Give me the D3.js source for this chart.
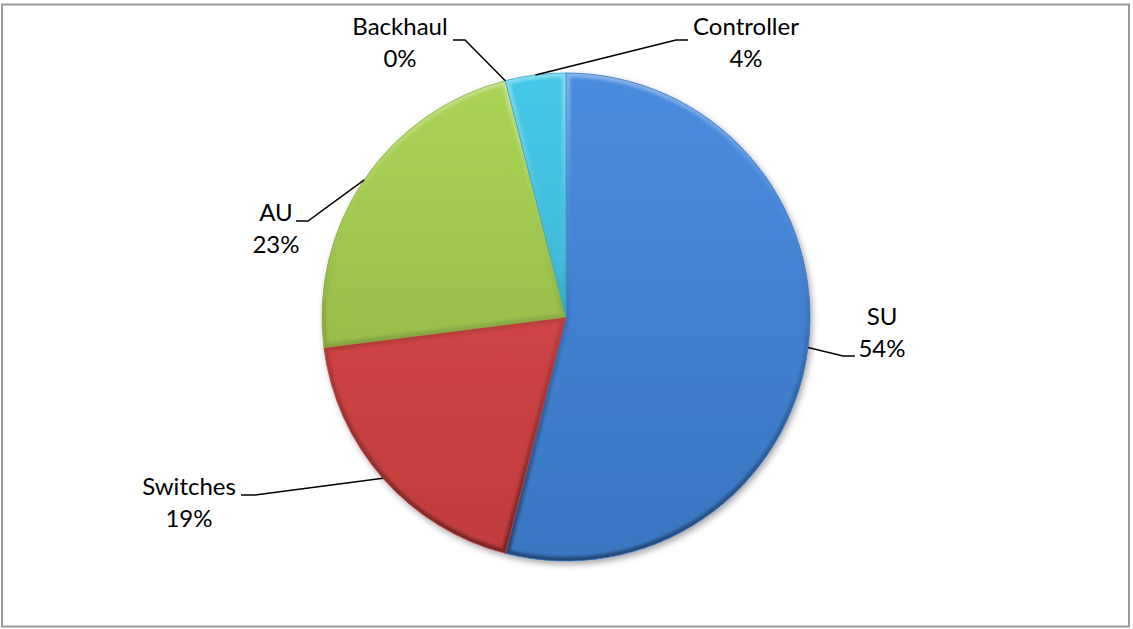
<!DOCTYPE html>
<html>
<head>
<meta charset="utf-8">
<script src="https://cdn.jsdelivr.net/npm/d3@7/dist/d3.min.js"></script>
<style>
  html, body { margin: 0; padding: 0; background: #ffffff; }
  svg { display: block; }
  text { font-family: Lato, "Noto Sans", sans-serif; fill: #000; }
</style>
</head>
<body>
<svg id="chart" width="1133" height="629"></svg>
<script>
// Share of equipment cost by component (percent)
const categories = ["SU", "Switches", "AU", "Backhaul", "Controller"];
const shares = [54, 19, 23, 0, 4];
const percentLabels = ["54%", "19%", "23%", "0%", "4%"];

// Slice colours: top and bottom of the vertical shading
const topColors = ["#4a8ce0", "#e04e4e", "#aad454", "#8a6cb0", "#46c8e8"];
const bottomColors = ["#3a76c2", "#c03c3c", "#8cac44", "#6c5290", "#34a8c6"];

// Label layout: centre x, first baseline, and where the leader elbow sits
const labelLayout = [
  { x: 882, y: 325, elbow: [843, 356], end: [855, 356] },
  { x: 189, y: 495, elbow: [255, 495], end: [241, 495] },
  { x: 276, y: 221, elbow: [308, 221], end: [296, 221] },
  { x: 400, y: 35,  elbow: [465, 40],  end: [453, 40] },
  { x: 746, y: 35,  elbow: [676, 40],  end: [688, 40] }
];

const cx = 566, cy = 317, R = 244;

const svg = d3.select("#chart");

// chart area border
svg.append("rect")
  .attr("x", 2).attr("y", 4.5)
  .attr("width", 1127).attr("height", 622)
  .attr("fill", "#fff")
  .attr("stroke", "#9a9a9a").attr("stroke-width", 2);

const defs = svg.append("defs");

const shadow = defs.append("filter").attr("id", "pieShadow")
  .attr("x", "-10%").attr("y", "-10%").attr("width", "120%").attr("height", "120%");
shadow.append("feDropShadow")
  .attr("dx", 2).attr("dy", 3).attr("stdDeviation", 3)
  .attr("flood-color", "#000").attr("flood-opacity", 0.35);

const soft = defs.append("filter").attr("id", "bevelBlur")
  .attr("x", "-5%").attr("y", "-5%").attr("width", "110%").attr("height", "110%");
soft.append("feGaussianBlur").attr("stdDeviation", 1.6);

// gradients are in the pie's local frame (centre at 0,0)
categories.forEach((c, i) => {
  const g = defs.append("linearGradient").attr("id", "fill" + i)
    .attr("gradientUnits", "userSpaceOnUse")
    .attr("x1", 0).attr("y1", -R).attr("x2", 0).attr("y2", R);
  g.append("stop").attr("offset", "0%").attr("stop-color", topColors[i]);
  g.append("stop").attr("offset", "100%").attr("stop-color", bottomColors[i]);
});

// bevel edge: faint highlight along the top, shading toward the bottom
const bev = defs.append("linearGradient").attr("id", "bevel")
  .attr("gradientUnits", "userSpaceOnUse")
  .attr("x1", 0).attr("y1", -R).attr("x2", 0).attr("y2", R);
bev.append("stop").attr("offset", "0%").attr("stop-color", "#fff").attr("stop-opacity", 0.35);
bev.append("stop").attr("offset", "25%").attr("stop-color", "#fff").attr("stop-opacity", 0.05);
bev.append("stop").attr("offset", "50%").attr("stop-color", "#000").attr("stop-opacity", 0.1);
bev.append("stop").attr("offset", "100%").attr("stop-color", "#000").attr("stop-opacity", 0.4);

const pie = d3.pie().sort(null).value(d => d.value);
const arcs = pie(categories.map((c, i) => ({ name: c, value: shares[i], label: percentLabels[i], idx: i })));
const arc = d3.arc().innerRadius(0).outerRadius(R);

arcs.forEach(a => {
  defs.append("clipPath").attr("id", "clip" + a.data.idx)
    .append("path").attr("d", arc(a));
});

const pieG = svg.append("g")
  .attr("transform", `translate(${cx},${cy})`)
  .append("g").attr("filter", "url(#pieShadow)");
const slices = pieG.selectAll("g.slice")
  .data(arcs.filter(a => a.endAngle > a.startAngle))
  .join("g").attr("class", "slice");

slices.append("path")
  .attr("d", arc)
  .attr("fill", d => `url(#fill${d.data.idx})`);

slices.append("g")
  .attr("clip-path", d => `url(#clip${d.data.idx})`)
  .append("path")
  .attr("d", arc)
  .attr("fill", "none")
  .attr("stroke", "url(#bevel)")
  .attr("stroke-width", 8)
  .attr("filter", "url(#bevelBlur)");

slices.append("path")
  .attr("d", arc)
  .attr("fill", "none")
  .attr("stroke", d => bottomColors[d.data.idx])
  .attr("stroke-width", 0.8);

// leader lines from each slice's outer mid-point to its label
const lines = svg.append("g");
arcs.forEach(a => {
  const i = a.data.idx;
  const mid = (a.startAngle + a.endAngle) / 2;
  const px = cx + R * Math.sin(mid), py = cy - R * Math.cos(mid);
  const L = labelLayout[i];
  lines.append("polyline")
    .attr("points", [[px, py], L.elbow, L.end].map(p => p.join(",")).join(" "))
    .attr("fill", "none").attr("stroke", "#000").attr("stroke-width", 1.5);
});

// labels: name and percentage
const labels = svg.append("g").attr("font-size", 24);
arcs.forEach(a => {
  const L = labelLayout[a.data.idx];
  const t = labels.append("text").attr("text-anchor", "middle");
  t.append("tspan").attr("x", L.x).attr("y", L.y).text(a.data.name);
  t.append("tspan").attr("x", L.x).attr("y", L.y + 32).text(a.data.label);
});
</script>
</body>
</html>
